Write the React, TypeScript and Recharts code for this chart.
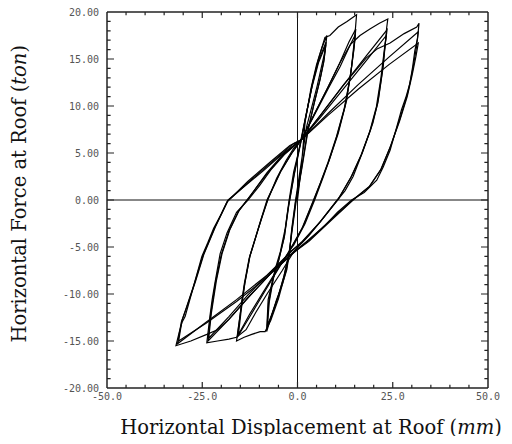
import React from 'react';
import { ComposedChart, Line, XAxis, YAxis, ReferenceLine } from 'recharts';

type Pt = [number, number];

// Tick values
const xTickLabels = [-50, -25, 0, 25, 50];
const xMinorTicks = [-45, -40, -35, -30, -20, -15, -10, -5, 5, 10, 15, 20, 30, 35, 40, 45];
const xMajorTicks = [-25, 0, 25];
const yTickLabels = [-20, -15, -10, -5, 0, 5, 10, 15, 20];
const yMinorTicks = [
  -19, -18, -17, -16, -14, -13, -12, -11, -9, -8, -7, -6, -4, -3, -2, -1,
  1, 2, 3, 4, 6, 7, 8, 9, 11, 12, 13, 14, 16, 17, 18, 19,
];
const yMajorTicks = [-15, -10, -5, 0, 5, 10, 15];

// Hysteresis cycles: [displacement (mm), force (ton)]
const cycle08a: Pt[] = [
  [0, 0], [1, 3.5], [2, 8.3], [3.5, 11.8], [5, 14.4], [6.5, 16.3], [7.7, 17.5],
  [7.3, 16], [6.3, 14.2], [5.2, 12.2], [4.2, 10.6], [2.4, 7.8], [1, 4], [-0.5, 0], [-1.5, -3], [-2, -5.3],
  [-2.8, -7.4], [-4, -9], [-5.5, -10.6], [-6.8, -12.3], [-8.1, -14],
  [-7.9, -12.3], [-7.7, -10.6], [-6.8, -9], [-5.9, -7.4], [-4.5, -5.5], [-3.2, -3], [-2.2, 0], [-1, 3], [0.5, 5.5], [1, 6.4],
];
const cycle08b: Pt[] = [
  [1, 6.4], [2.5, 9.5], [4, 12.5], [5.5, 14.8], [7.5, 16.8],
  [7, 15], [6, 13], [4.5, 10.5], [2.8, 7.5], [1.2, 3.5], [-0.3, 0], [-1.5, -3.5], [-2.2, -5.6],
  [-3.5, -8], [-5, -10.2], [-6.5, -12], [-8, -13.6],
  [-7.6, -11], [-6.5, -8.5], [-5, -6.5], [-3.5, -4], [-2.5, -1], [-1, 2.5], [0.8, 6.2],
];
const cycle08c: Pt[] = [
  [0.8, 6.2], [2.2, 9], [3.8, 12], [5.5, 14.6], [7.4, 16.5],
  [6.9, 14.7], [5.8, 12.6], [4.3, 10.2], [2.6, 7.2], [1, 3.2], [-0.5, -0.2], [-1.6, -3.6], [-2.1, -5.5],
  [-3.6, -8.2], [-5.2, -10.4], [-6.6, -12], [-7.9, -13.4],
  [-7.4, -10.8], [-6.3, -8.3], [-4.8, -6.2], [-3.4, -3.8], [-2.3, -0.6], [-0.8, 2.8], [1, 6.4],
];
const cycle16a: Pt[] = [
  [1, 6.4], [2, 8.5], [4, 12.5], [5.5, 15], [7.2, 17.3], [8.5, 17.5], [10.7, 18.4], [13, 19], [15.5, 19.7],
  [15.1, 17.7], [14.2, 14.2], [12.9, 10.6], [10.7, 7.1], [8.8, 4.8], [6.8, 2.5], [4.5, 0], [2, -2.5], [-1, -4.8], [-2, -5.3],
  [-3, -7.5], [-5, -10.5], [-7, -12.8], [-8.5, -14], [-9.8, -14], [-12, -14.3], [-14, -14.6], [-16, -15],
  [-15.5, -13.5], [-15.1, -12.4], [-14.5, -10.5], [-13.8, -8.8], [-12.5, -6], [-11, -4], [-9.5, -2], [-7.8, 0], [-5.5, 2.3], [-3, 4.2], [-1, 5.5], [1, 6.4],
];
const cycle16b: Pt[] = [
  [1, 6.4], [4, 8.8], [8, 12], [11, 14.5], [13.5, 16.8], [15.3, 18.2],
  [14.9, 16.5], [14, 13.5], [12.5, 10], [10.5, 7], [8.3, 4.2], [6.2, 2], [4.3, 0], [1.5, -2.8], [-2, -5.3],
  [-5, -7.3], [-9, -10], [-12.5, -12.4], [-15.8, -14.6],
  [-15, -12], [-14, -9], [-12.7, -6.2], [-10.5, -3.3], [-8, 0], [-4.5, 3], [-1.5, 5], [1, 6.4],
];
const cycle16c: Pt[] = [
  [1, 6.4], [4, 8.7], [8, 11.8], [11.2, 14.2], [13.6, 16.3], [15.2, 17.6],
  [14.8, 16], [13.8, 13], [12.2, 9.6], [10.2, 6.7], [8, 4], [6, 1.8], [4, -0.2], [1.2, -3], [-2, -5.4],
  [-5, -7.2], [-9, -9.8], [-12.5, -12.1], [-15.5, -14.3],
  [-14.8, -11.8], [-13.8, -8.8], [-12.5, -6], [-10.3, -3.1], [-7.7, 0.2], [-4.3, 3.1], [-1.3, 5.1], [1, 6.4],
];
const cycle24a: Pt[] = [
  [1, 6.4], [4, 8.8], [8, 12], [11, 14.5], [14, 16.6], [16.4, 17.5], [19, 18.2], [21.5, 18.8], [23.7, 19.25],
  [23.4, 18.3], [22.5, 14.2], [21.2, 10.6], [19.8, 8.2], [18.2, 6.4], [16.5, 4.5], [14.6, 2.5], [12.5, 1], [10.5, 0], [7, -1.8], [3, -3.8], [-1, -5.5],
  [-4, -7.5], [-8, -10], [-11, -12], [-13.5, -13.8], [-16, -14.6], [-18, -14.8], [-21, -15], [-23.8, -15.2],
  [-23.4, -13.8], [-23, -12.4], [-22.4, -10.6], [-21.7, -8.9], [-20.3, -5.7], [-18.5, -3.5], [-16, -1.3], [-13, 0], [-10, 1.5], [-7, 3.2], [-3.5, 4.8], [1, 6.4],
];
const cycle24b: Pt[] = [
  [1, 6.4], [6, 9], [12, 12.2], [18, 15.3], [23.5, 18.1],
  [23, 16.5], [22.2, 13.5], [21, 10.2], [19.2, 7.5], [17, 5], [14.3, 2.6], [11, 0.3], [6, -2.3], [1, -4.5], [-1.5, -5.4],
  [-7, -7.8], [-13, -10.4], [-18, -12.7], [-23.5, -15],
  [-22.8, -12.2], [-21.5, -8.7], [-20, -5.8], [-18, -3.3], [-15.5, -1.2], [-12.5, 0.4], [-8, 2.8], [-3.5, 4.9], [1, 6.4],
];
const cycle24c: Pt[] = [
  [1, 6.4], [6, 8.8], [12, 11.8], [18, 14.8], [23.3, 17.5],
  [22.8, 16], [21.9, 13], [20.7, 9.9], [18.9, 7.2], [16.7, 4.8], [14, 2.4], [10.7, 0.1], [5.8, -2.4], [1, -4.6], [-1.5, -5.4],
  [-7, -7.6], [-13, -10.1], [-18, -12.4], [-23.3, -14.7],
  [-22.6, -12], [-21.3, -8.6], [-19.8, -5.7], [-17.8, -3.2], [-15.3, -1.1], [-12.3, 0.5], [-8, 2.9], [-3.5, 5], [1, 6.4],
];
const cycle32a: Pt[] = [
  [1, 6.4], [6, 9], [12, 12.2], [18, 15.1], [21, 16.1], [24.3, 16.7], [28, 17.7], [31.3, 18.4], [31.9, 18.8],
  [31.5, 17.2], [30.8, 15.9], [30.2, 14.1], [29.5, 12.4], [28.5, 11], [27.3, 9.6], [25.8, 7.4], [24.3, 5.3], [22.5, 3.5], [20.8, 2.1], [17.5, 0.8], [14.2, 0], [10.5, -1.3], [7, -2.8], [3, -4.2], [-0.7, -5.5],
  [-7, -7.8], [-13, -10.4], [-18, -12.7], [-21, -13.8], [-23.8, -14.3], [-28, -15], [-31.9, -15.5],
  [-31, -14], [-30.3, -13], [-29.5, -12.4], [-28.4, -10.8], [-27.3, -9.2], [-26.2, -7.6], [-25.1, -6], [-23.5, -4.5], [-22, -3], [-20, -1.5], [-18.2, 0], [-13.5, 1.6], [-9, 3.1], [-4.5, 4.7], [1, 6.4],
];
const cycle32b: Pt[] = [
  [1, 6.4], [8, 9.2], [16, 12.3], [24, 15.2], [31.7, 17.9],
  [31.2, 16.2], [30.3, 14], [29, 11.5], [27, 8.8], [24.5, 5.8], [22, 3.3], [19, 1.5], [14.5, 0], [9, -2], [3, -4.3], [-1, -5.5],
  [-8, -8], [-16, -10.6], [-24, -13], [-31.5, -15.3],
  [-30.5, -13], [-29.2, -11.5], [-27, -8.8], [-24.8, -5.9], [-21.8, -3], [-18.5, -0.2], [-13, 2], [-7, 4.1], [-2, 5.8], [1, 6.4],
];
const cycle32c: Pt[] = [
  [1, 6.4], [8, 9], [16, 11.8], [24, 14.4], [31.7, 16.7],
  [31.1, 15.3], [30.1, 13.3], [28.8, 11], [26.8, 8.4], [24.3, 5.6], [21.8, 3.2], [18.8, 1.4], [14.3, -0.1], [9, -2.1], [3, -4.4], [-1, -5.6],
  [-8, -8.2], [-16, -10.8], [-24, -13.1], [-31.2, -15],
  [-30.3, -12.8], [-29, -11.3], [-26.8, -8.7], [-24.6, -5.8], [-21.6, -2.9], [-18.3, -0.1], [-12, 2.2], [-6, 4.3], [-1, 6], [1, 6.4],
];

const cycles: Pt[][] = [
  cycle08a, cycle08b, cycle08c,
  cycle16a, cycle16b, cycle16c,
  cycle24a, cycle24b, cycle24c,
  cycle32a, cycle32b, cycle32c,
];

const X_MIN = -50, X_MAX = 50, Y_MIN = -20, Y_MAX = 20;

type Row = { d: number; f: number | null };
const toRows = (pts: Pt[]): Row[] => pts.map(([d, f]) => ({ d, f }));

// inward tick marks (lengths in data units), separated by null gaps
const X_TICK_MAJOR = 0.64, X_TICK_MINOR = 0.34;
const Y_TICK_MAJOR = 1.85, Y_TICK_MINOR = 0.95;
const allX = [...xMinorTicks.map((v) => [v, X_TICK_MINOR]), ...xMajorTicks.map((v) => [v, X_TICK_MAJOR])];
const allY = [...yMinorTicks.map((v) => [v, Y_TICK_MINOR]), ...yMajorTicks.map((v) => [v, Y_TICK_MAJOR])];
const bottomTickRows: Row[] = allX.flatMap(([x, l]) => [
  { d: x, f: Y_MIN }, { d: x, f: Y_MIN + l }, { d: x, f: null },
]);
const topTickRows: Row[] = allX.flatMap(([x, l]) => [
  { d: x, f: Y_MAX }, { d: x, f: Y_MAX - l }, { d: x, f: null },
]);
const leftTickRows: Row[] = allY.flatMap(([y, l]) => [
  { d: X_MIN, f: y }, { d: X_MIN + l, f: y }, { d: X_MIN + l, f: null },
]);
const rightTickRows: Row[] = allY.flatMap(([y, l]) => [
  { d: X_MAX, f: y }, { d: X_MAX - l, f: y }, { d: X_MAX - l, f: null },
]);

const tickFont = { fontFamily: 'DejaVu Sans Mono', fontSize: 10, fill: '#555' };

export default function App() {
  return (
    <div style={{ position: 'relative', width: 496, height: 428 }}>
      <ComposedChart width={496} height={428} margin={{ top: 4, right: 16, bottom: 18, left: 0 }}>
        <XAxis
          type="number"
          dataKey="d"
          domain={[X_MIN, X_MAX]}
          ticks={xTickLabels}
          interval={0}
          allowDataOverflow
          axisLine={false}
          tickLine={false}
          tickSize={0}
          tickMargin={5}
          height={30}
          tick={tickFont}
          tickFormatter={(v: number) => v.toFixed(1)}
        />
        <YAxis
          type="number"
          dataKey="f"
          domain={[Y_MIN, Y_MAX]}
          ticks={yTickLabels}
          interval={0}
          allowDataOverflow
          axisLine={false}
          tickLine={false}
          tickSize={0}
          tickMargin={8}
          width={99}
          tick={tickFont}
          tickFormatter={(v: number) => v.toFixed(2)}
        />
        <ReferenceLine x={X_MIN} stroke="#222" strokeWidth={1.5} />
        <ReferenceLine x={X_MAX} stroke="#222" strokeWidth={1.5} />
        <ReferenceLine y={Y_MIN} stroke="#222" strokeWidth={1.5} />
        <ReferenceLine y={Y_MAX} stroke="#222" strokeWidth={1.5} />
        <ReferenceLine x={0} stroke="#111" strokeWidth={1} />
        <ReferenceLine y={0} stroke="#111" strokeWidth={1} />
        <Line data={bottomTickRows} dataKey="f" stroke="#222" strokeWidth={1.2} dot={false} isAnimationActive={false} />
        <Line data={topTickRows} dataKey="f" stroke="#222" strokeWidth={1.2} dot={false} isAnimationActive={false} />
        <Line data={leftTickRows} dataKey="f" stroke="#222" strokeWidth={1.2} dot={false} isAnimationActive={false} />
        <Line data={rightTickRows} dataKey="f" stroke="#222" strokeWidth={1.2} dot={false} isAnimationActive={false} />
        {cycles.map((c, i) => (
          <Line
            key={i}
            data={toRows(c)}
            dataKey="f"
            type="linear"
            stroke="#000"
            strokeWidth={1.2}
            dot={false}
            activeDot={false}
            isAnimationActive={false}
          />
        ))}
      </ComposedChart>
      <div
        style={{
          position: 'absolute',
          left: 102,
          top: 409,
          width: 402,
          textAlign: 'center',
          whiteSpace: 'nowrap',
          fontFamily: 'DejaVu Serif',
          fontSize: 19.5,
          lineHeight: '22px',
          color: '#111',
        }}
      >
        Horizontal Displacement at Roof (<i>mm</i>)
      </div>
      <div
        style={{
          position: 'absolute',
          left: -8,
          top: -2,
          width: 40,
          height: 376,
          display: 'flex',
          alignItems: 'center',
          justifyContent: 'center',
        }}
      >
        <span
          style={{
            writingMode: 'vertical-rl',
            transform: 'rotate(180deg)',
            whiteSpace: 'nowrap',
            fontFamily: 'DejaVu Serif',
            fontSize: 19.5,
            lineHeight: '22px',
            color: '#111',
          }}
        >
          Horizontal Force at Roof (<i>ton</i>)
        </span>
      </div>
    </div>
  );
}
